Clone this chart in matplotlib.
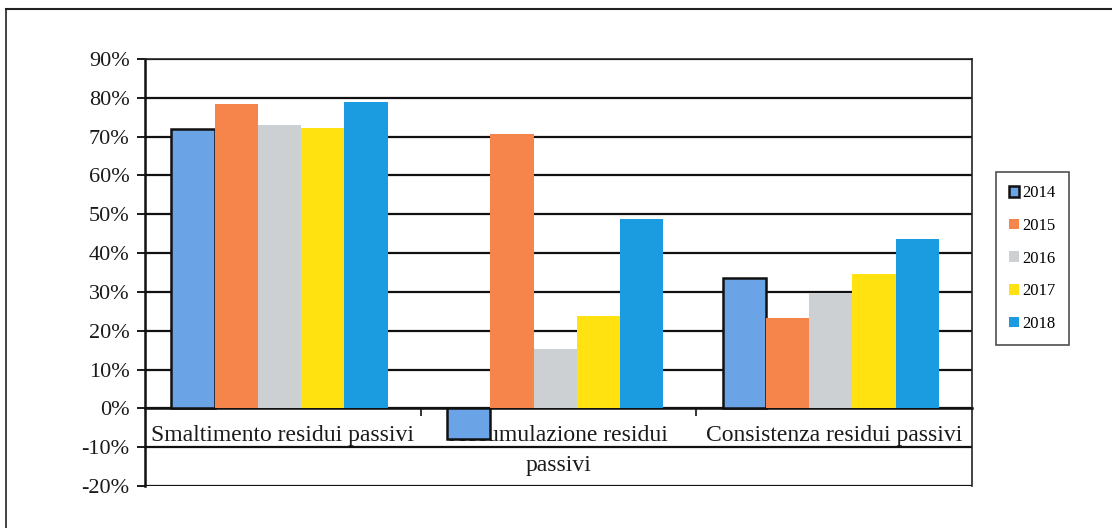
import matplotlib
matplotlib.use("Agg")
import matplotlib.pyplot as plt
from matplotlib.lines import Line2D
from matplotlib.ticker import PercentFormatter
import numpy as np

plt.rcParams['font.family'] = ['Liberation Serif', 'DejaVu Serif']
plt.rcParams['axes.unicode_minus'] = False

categories = ["Smaltimento residui passivi", "Accumulazione residui\npassivi", "Consistenza residui passivi"]
years = ["2014", "2015", "2016", "2017", "2018"]
v2014 = [72, -8, 33.6]
v2015 = [78.5, 70.8, 23.3]
v2016 = [73, 15.4, 29.7]
v2017 = [72.3, 23.8, 34.7]
v2018 = [78.8, 48.9, 43.6]
series = [v2014, v2015, v2016, v2017, v2018]
colors = ["#6AA3E6", "#F5854A", "#CDD0D2", "#FFE210", "#1C9CE0"]
edges = ["#111111", "none", "none", "none", "none"]
y_ticks = list(range(-20, 100, 10))

fig = plt.figure(figsize=(11.12, 5.28), dpi=100)
ax = fig.add_axes([145/1112, 1-486/528, (972-145)/1112, (486-59)/528])

x = np.arange(len(categories))
w = 0.157
for i, (vals, c, ec) in enumerate(zip(series, colors, edges)):
    ax.bar(x + (i - 2) * w - 0.012, vals, width=w, color=c, edgecolor=ec,
           linewidth=1.8 if ec != "none" else 0, label=years[i], zorder=5)

ax.set_xlim(-0.5, 2.5)
ax.set_ylim(-20, 90)
ax.set_yticks(y_ticks)
ax.yaxis.set_major_formatter(PercentFormatter(decimals=0))
ax.grid(axis='y', color='#111111', linewidth=1.6, zorder=1)
ax.set_axisbelow(True)

for s in ['top', 'right']:
    ax.spines[s].set_color('#222222')
    ax.spines[s].set_linewidth(1.2)
ax.spines['left'].set_linewidth(1.8)
ax.spines['left'].set_color('#111111')
ax.spines['bottom'].set_position(('data', 0))
ax.spines['bottom'].set_linewidth(1.8)
ax.spines['bottom'].set_color('#111111')
ax.spines['bottom'].set_zorder(4)

ax.set_xticks(x)
ax.set_xticklabels(categories, fontsize=17, color='#1a1a1a', linespacing=1.55)
ax.tick_params(axis='x', length=0, pad=12)
ax.set_xticks([0.5, 1.5], minor=True)
ax.tick_params(axis='x', which='minor', length=6, width=1.2, direction='out', color='#111111')
ax.tick_params(axis='y', length=6, width=1.4, pad=5, labelsize=16, colors='#1a1a1a')

leg = ax.legend(loc='upper right', bbox_to_anchor=(1069/1112, 1-172/528), bbox_transform=fig.transFigure,
                fontsize=12, frameon=True, fancybox=False, edgecolor='#222222',
                handlelength=0.6, handleheight=0.6, handletextpad=0.2, labelspacing=1.0,
                borderpad=0.8, borderaxespad=0)
leg.get_frame().set_linewidth(1.2)
leg.set_zorder(6)

fig.add_artist(Line2D([6/1112, 1.0], [1-9/528, 1-9/528], transform=fig.transFigure, color='#222222', lw=1.5))
fig.add_artist(Line2D([6/1112, 6/1112], [1-9/528, 0], transform=fig.transFigure, color='#222222', lw=1.2))

fig.savefig("out.png", dpi=100)
